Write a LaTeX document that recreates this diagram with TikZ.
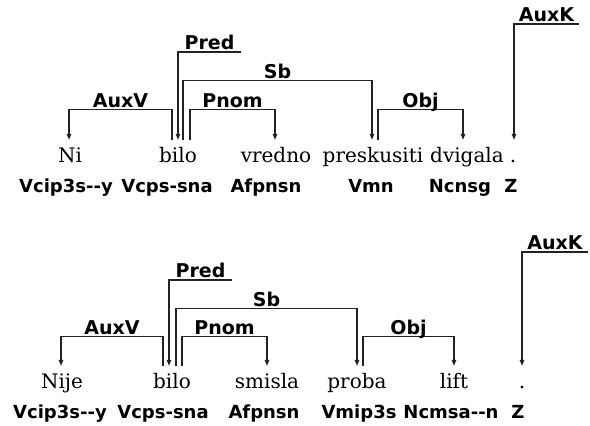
\documentclass[tikz,border=0pt]{standalone}
\usepackage{fontspec}
\setmainfont{DejaVu Serif}
\setsansfont{DejaVu Sans}
\usetikzlibrary{arrows.meta}
\definecolor{edge}{HTML}{222222}
\begin{document}
\begin{tikzpicture}[x=1pt,y=1pt,
  word/.style={anchor=base, inner sep=0pt, text height=23pt, text depth=0pt,
    font=\fontsize{20}{24}\selectfont},
  tagl/.style={anchor=base, inner sep=0pt,
    font=\sffamily\bfseries\fontsize{18}{22}\selectfont},
  lbl/.style={anchor=base, inner sep=0pt, yshift=2pt, text=black,
    font=\sffamily\bfseries\fontsize{19}{22}\selectfont},
  dep/.style={draw=edge, line width=1.3pt,
    -{Triangle[length=6pt,width=4.5pt]}}]
\fill[white] (0,0) rectangle (590,426);
\useasboundingbox (0,0) rectangle (590,426);

% ---- first sentence ----
\node[word] (w1) at (70,263) {Ni};
\node[word] (w2) at (178,263) {bilo};
\node[word] (w3) at (276,263) {vredno};
\node[word] (w4) at (373,263) {preskusiti};
\node[word] (w5) at (467,263) {dvigala};
\node[word] (w6) at (513,263) {.};

\node[tagl] (t1) at (66,233) {Vcip3s-{}-y};
\node[tagl] (t2) at (167,233) {Vcps-sna};
\node[tagl] (t3) at (266,233) {Afpnsn};
\node[tagl] (t4) at (371,233) {Vmn};
\node[tagl] (t5) at (460,233) {Ncnsg};
\node[tagl] (t6) at (511,233) {Z};

\coordinate (r1) at (241,374);
\coordinate (k1) at (579,402);

\draw[dep] ([xshift=-6pt]w2.north) -- ++(0,30) -| node[lbl,pos=0.25]{AuxV} ([xshift=-1pt]w1.north);
\draw[dep] (r1) -| node[lbl,pos=0.25]{Pred} (w2.north);
\draw[dep] ([xshift=5pt]w2.north) -- ++(0,59) -| node[lbl,pos=0.25]{Sb} ([xshift=-1pt]w4.north);
\draw[dep] ([xshift=12pt]w2.north) -- ++(0,30) -| node[lbl,pos=0.25]{Pnom} ([xshift=-1pt]w3.north);
\draw[dep] ([xshift=5pt]w4.north) -- ++(0,30) -| node[lbl,pos=0.25]{Obj} ([xshift=-4pt]w5.north);
\draw[dep] (k1) -| node[lbl,pos=0.25]{AuxK} ([xshift=1pt]w6.north);

% ---- second sentence ----
\node[word] (v1) at (62,37) {Nije};
\node[word] (v2) at (172,37) {bilo};
\node[word] (v3) at (267,37) {smisla};
\node[word] (v4) at (357,37) {proba};
\node[word] (v5) at (454,37) {lift};
\node[word] (v6) at (522,37) {.};

\node[tagl] (s1) at (60,7) {Vcip3s-{}-y};
\node[tagl] (s2) at (163,7) {Vcps-sna};
\node[tagl] (s3) at (264,7) {Afpnsn};
\node[tagl] (s4) at (359,7) {Vmip3s};
\node[tagl] (s5) at (451,7) {Ncmsa-{}-n};
\node[tagl] (s6) at (518,7) {Z};

\coordinate (r2) at (232,146);
\coordinate (k2) at (588,174);

\draw[dep] ([xshift=-9pt]v2.north) -- ++(0,29) -| node[lbl,pos=0.25]{AuxV} ([xshift=-1pt]v1.north);
\draw[dep] (r2) -| node[lbl,pos=0.25]{Pred} ([xshift=-3pt]v2.north);
\draw[dep] ([xshift=4pt]v2.north) -- ++(0,57) -| node[lbl,pos=0.25]{Sb} (v4.north);
\draw[dep] ([xshift=10pt]v2.north) -- ++(0,29) -| node[lbl,pos=0.25]{Pnom} (v3.north);
\draw[dep] ([xshift=6pt]v4.north) -- ++(0,29) -| node[lbl,pos=0.25]{Obj} (v5.north);
\draw[dep] (k2) -| node[lbl,pos=0.25]{AuxK} (v6.north);
\end{tikzpicture}
\end{document}
